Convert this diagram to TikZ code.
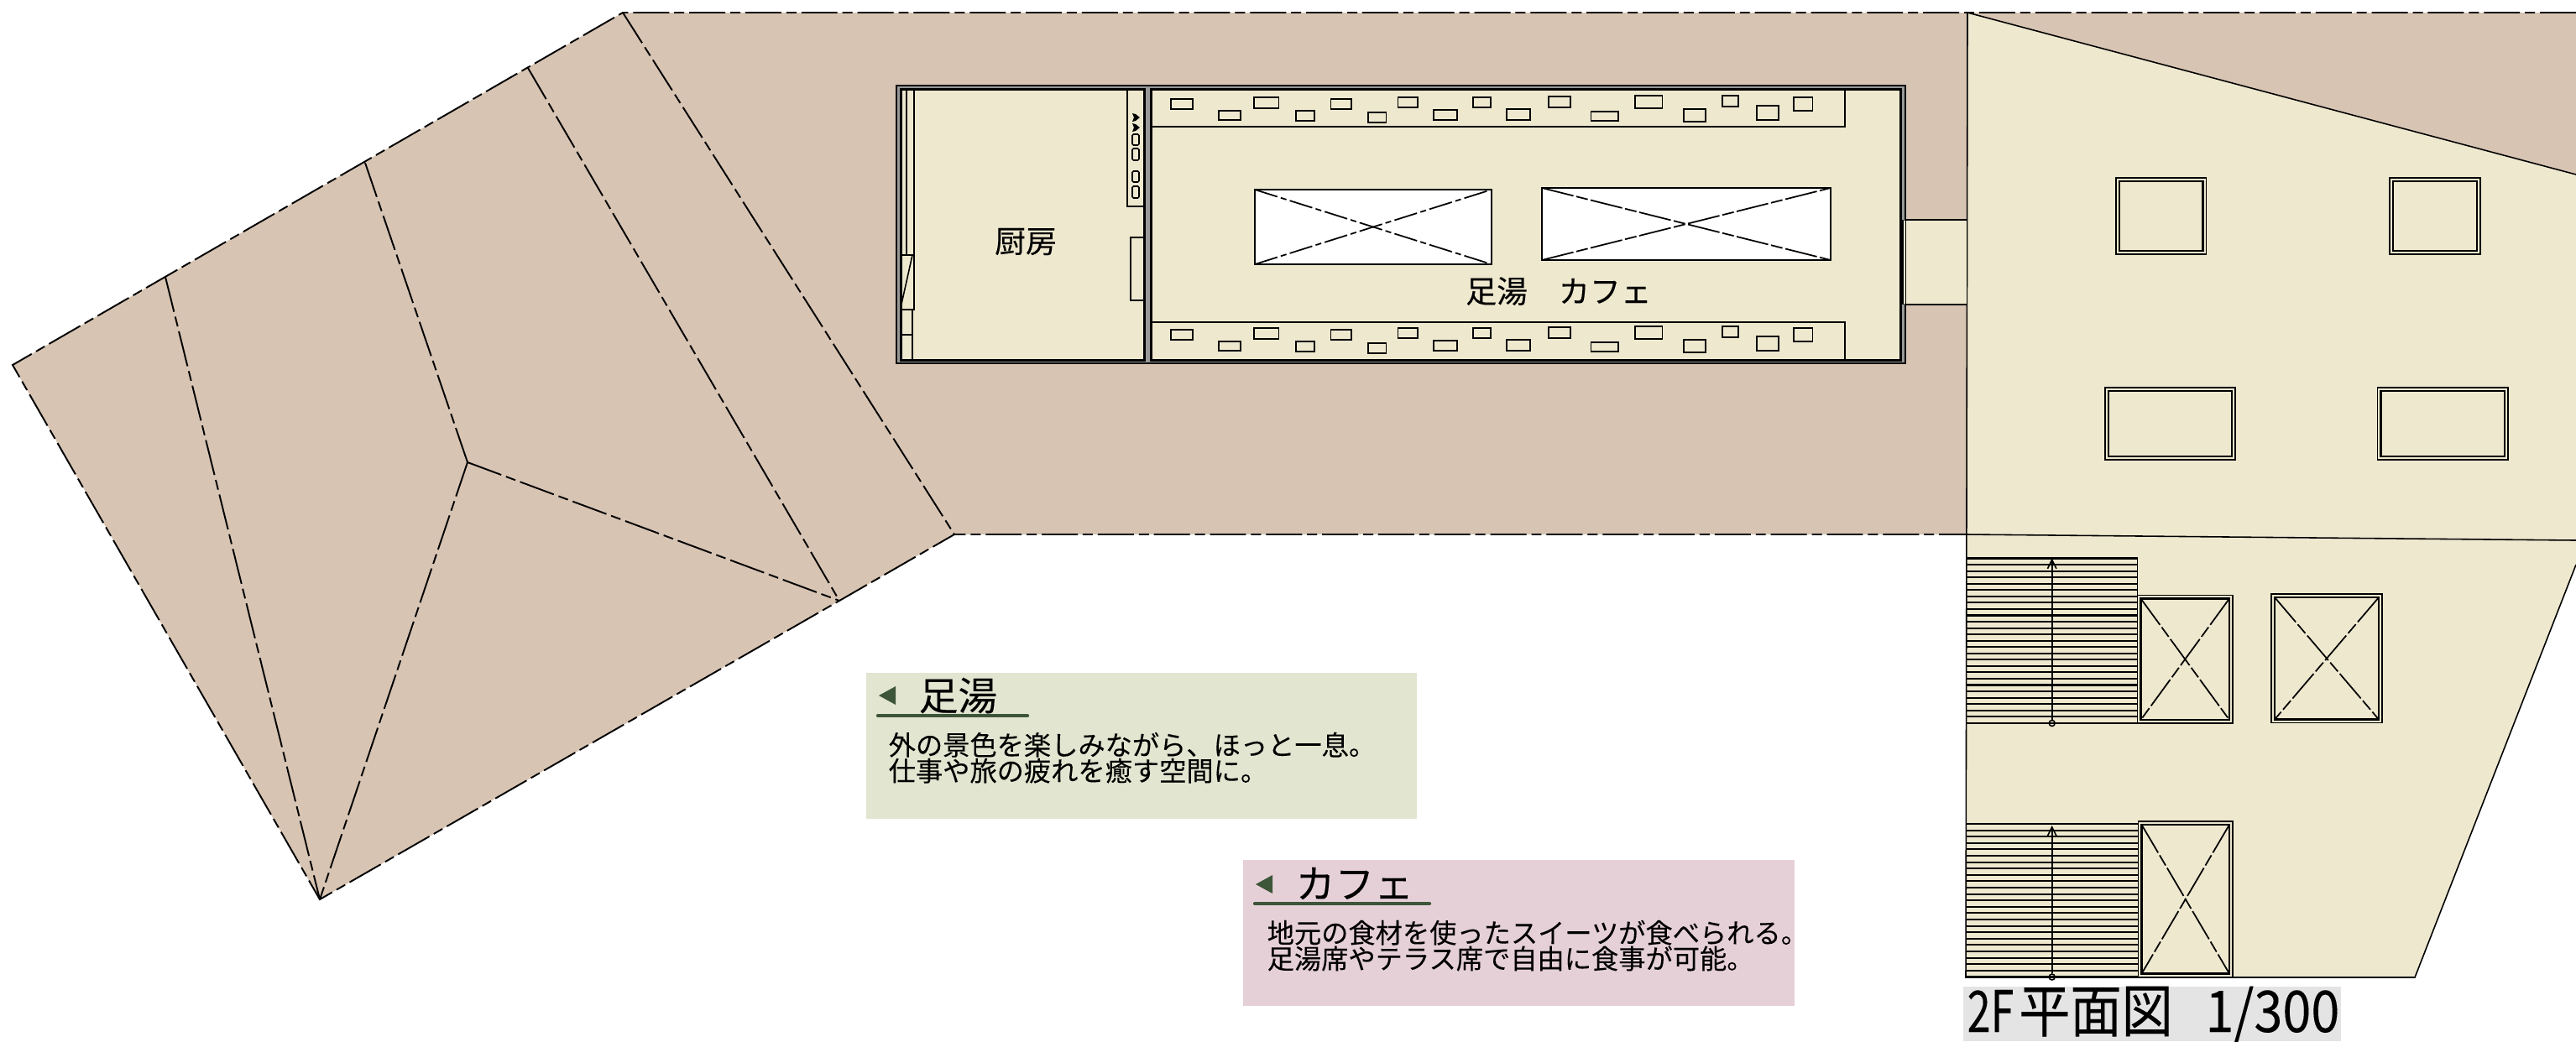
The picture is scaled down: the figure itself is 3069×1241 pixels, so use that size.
\documentclass[tikz,border=0pt]{standalone}
\usepackage{fontspec}
\setmainfont[FakeBold=0.12]{Noto Sans CJK JP}
\usepackage{tikz}
\usetikzlibrary{arrows.meta}

\definecolor{roofbrown}{HTML}{D7C4B3}
\definecolor{floorcream}{HTML}{EEE8CF}
\definecolor{wallgray}{HTML}{999999}
\definecolor{notegreen}{HTML}{E2E5D0}
\definecolor{notepink}{HTML}{E6D0D8}
\definecolor{markgreen}{HTML}{3D5538}
\definecolor{titlegray}{HTML}{E4E4E4}

\tikzset{
    roofline/.style={line width=.55pt, dash pattern=on 12.2pt off 1.7pt on 3.4pt off 1.7pt},
    thinline/.style={line width=.45pt},
    heavyline/.style={line width=.85pt},
    voidline/.style={line width=.5pt, dash pattern=on 8pt off 1.2pt on 2pt off 1.2pt},
    voidlong/.style={line width=.5pt, dash pattern=on 11pt off 1pt on 4pt off 1pt},
    roomlabel/.style={inner sep=0pt, font=\fontsize{10.5pt}{10.5pt}\selectfont},
    noteheading/.style={inner sep=0pt, anchor=west, font=\fontsize{13.3pt}{13.5pt}\selectfont},
    notebody/.style={inner sep=0pt, anchor=north west, align=left, font=\fontsize{9.17pt}{8.75pt}\selectfont},
    underbar/.style={markgreen, line width=1.2pt, line cap=round},
    stairline/.style={line width=.6pt},
    stairdot/.style={circle, draw, thinline, inner sep=0pt, minimum size=2pt},
    stairarrow/.style={thinline, -{Straight Barb[length=3pt,width=3pt]}}
}

\begin{document}
\begin{tikzpicture}[x=0.01cm,y=-0.01cm]
    \useasboundingbox (0,0) rectangle (3069,1241);

    \coordinate (roofA) at (742,15);
    \coordinate (roofB) at (15,435);
    \coordinate (roofC) at (381,1072);
    \coordinate (roofD) at (1000,716);
    \coordinate (roofE) at (1137,637);
    \coordinate (roofF) at (557,551);
    \coordinate (ridgeA) at (629,81);
    \coordinate (ridgeB) at (435,194);
    \coordinate (ridgeC) at (197,330);
    \coordinate (bldgA) at (2344,15);
    \coordinate (bldgB) at (3069,208);
    \coordinate (bldgC) at (3069,673);
    \coordinate (bldgD) at (2877,1165);
    \coordinate (bldgE) at (2342,1165);
    \coordinate (bldgF) at (2343,637);
    \coordinate (bldgG) at (3069,644);
    \coordinate (topEnd) at (3069,15);

    % roof
    \fill[roofbrown] (roofA) -- (roofB) -- (roofC) -- (roofD) -- (roofE) -- (bldgF) -- (bldgG) -- (topEnd) -- cycle;
    \draw[roofline] (topEnd) -- (roofA) -- (roofB) -- (roofC) -- (roofD) -- (roofE) -- (bldgF);
    \draw[roofline] (roofA) -- (roofE);
    \draw[roofline] (ridgeA) -- (roofD);
    \draw[roofline] (ridgeB) -- (roofF);
    \draw[roofline] (ridgeC) -- (roofC);
    \draw[roofline] (roofF) -- (roofC);
    \draw[roofline] (roofF) -- (roofD);

    % building on the right
    \fill[floorcream] (bldgA) -- (bldgB) -- (bldgC) -- (bldgD) -- (bldgE) -- cycle;
    \draw[thinline] (bldgB) -- (bldgA) -- (bldgE) -- (bldgD) -- (bldgC);
    \draw[thinline] (bldgF) -- (bldgG);
    \foreach \xa/\ya/\xb/\yb in {2521/212/2628.5/303, 2847/212/2955/303, 2508/462/2663/548, 2832.5/462/2988/548}{
        \draw[thinline] (\xa,\ya) rectangle (\xb,\yb);
        \draw[thinline, line width=.65pt] ({\xa+4},{\ya+4}) rectangle ({\xb-4},{\yb-4});
    }

    % stairs
    \foreach \i in {0,...,26}
        \draw[stairline] (2343,{665.5+\i*7.55}) -- (2546.5,{665.5+\i*7.55});
    \draw[thinline] (2546.5,665.5) -- (2546.5,862);
    \foreach \i in {0,...,24}
        \draw[stairline] (2342,{982+\i*7.6}) -- (2547,{982+\i*7.6});
    \coordinate (stairTopA) at (2444.7,665.5);
    \coordinate (stairTopB) at (2444.7,984);
    \node[stairdot] (stairDotA) at (2444.7,862) {};
    \node[stairdot] (stairDotB) at (2444.7,1164.5) {};
    \draw[stairarrow] (stairDotA) -- (stairTopA);
    \draw[stairarrow] (stairDotB) -- (stairTopB);

    % shafts
    \foreach \xa/\ya/\xb/\yb in {2546.5/709.5/2660/862, 2706/708/2838/861.5, 2547.5/979/2660/1164.5}{
        \draw[thinline] (\xa,\ya) rectangle (\xb,\yb);
        \draw[thinline, line width=.65pt] ({\xa+4},{\ya+4}) rectangle ({\xb-4},{\yb-4});
        \draw[voidlong] ({\xa+4},{\ya+4}) -- ({\xb-4},{\yb-4});
        \draw[voidlong] ({\xb-4},{\ya+4}) -- ({\xa+4},{\yb-4});
    }

    % link between the wings
    \fill[floorcream] (2266,262) rectangle (2343,363);
    \draw[thinline] (2266,262) -- (2343,262);
    \draw[thinline] (2266,363) -- (2343,363);

    % footbath cafe
    \draw[thinline, fill=wallgray] (1068,102) rectangle (2270,433);
    \draw[heavyline, fill=floorcream] (1073,106) rectangle (1363,429);
    \draw[heavyline, fill=floorcream] (1371,106) rectangle (2264,429);
    \fill[floorcream] (2265,263) rectangle (2270,362);
    \draw[heavyline] (2266,262) -- (2266,363);

    % kitchen fittings
    \draw[thinline] (1080,106) -- (1080,304);
    \draw[thinline] (1089,106) -- (1089,369) -- (1073,369);
    \draw[thinline] (1073,304) -- (1089,304);
    \draw[thinline] (1087,304) -- (1073,367);
    \draw[thinline] (1087,369) -- (1087,429);
    \draw[thinline] (1073,399) -- (1087,399);
    \draw[thinline] (1343,106) -- (1343,246) -- (1363,246);
    \draw[thinline] (1363,283) -- (1347,283) -- (1347,358) -- (1363,358);
    \foreach \ya/\yb in {160/173, 177/191, 204/217, 222/236}
        \draw[thinline, rounded corners=.4pt] (1349,\ya) rectangle (1357,\yb);
    \foreach \ya in {135,147}
        \fill (1349,\ya) -- (1353,{\ya+1}) -- (1358,{\ya+5}) -- (1353,{\ya+9}) -- (1349,{\ya+10}) -- (1351,{\ya+5}) -- cycle;

    % benches and tables
    \foreach \dy in {0,274.67}{
        \foreach \xa/\ya/\xb/\yb in {1395/118/1421/130, 1452/132/1478/143, 1494/116/1523.5/129, 1544/132/1566/144,
                1585.5/118/1610/130, 1630/134/1651.5/146, 1665.5/116/1689/128, 1708/131/1736/143, 1755/116/1776/128,
                1795/130/1823/143, 1845/115/1871/128, 1895.5/133/1928/144, 1948/114/1980.5/129, 2006/130/2032/145,
                2052/114/2071/127, 2093/126/2119/143, 2137/116/2159.5/132}
            \draw[thinline, line width=.55pt] (\xa,{\ya+\dy}) rectangle (\xb,{\yb+\dy});
    }
    \draw[thinline, line width=.6pt] (1371,151) -- (2198,151) -- (2198,106);
    \draw[thinline, line width=.6pt] (1371,384) -- (2198,384) -- (2198,429);

    % voids
    \draw[thinline, line width=.6pt, fill=white] (1495,226) rectangle (1777,315);
    \draw[voidline] (1495,226) -- (1777,315);
    \draw[voidline] (1495,315) -- (1777,226);
    \draw[thinline, line width=.6pt, fill=white] (1837,224) rectangle (2181,310);
    \draw[voidlong] (1837,224) -- (2181,310);
    \draw[voidlong] (1837,310) -- (2181,224);

    \node[roomlabel] (kitchenLabel) at (1222,288) {厨房};
    \node[roomlabel] (cafeLabel) at (1857,347) {足湯　カフェ};

    % notes
    \fill[notegreen] (1032,802) rectangle (1688,976);
    \fill[markgreen] (1047,829) -- (1067,818) -- (1067,840) -- cycle;
    \node[noteheading] (footHead) at (1094,829) {足湯};
    \draw[underbar] (1046,853) -- (1224,853);
    \node[notebody] (footBody) at (1058,872) {外の景色を楽しみながら、ほっと一息。\\仕事や旅の疲れを癒す空間に。};

    \fill[notepink] (1481,1025) rectangle (2138,1199);
    \fill[markgreen] (1496,1054) -- (1516,1043) -- (1516,1065) -- cycle;
    \node[noteheading] (cafeHead) at (1543,1053) {カフェ};
    \draw[underbar] (1495,1077) -- (1703,1077);
    \node[notebody] (cafeBody) at (1509,1096) {地元の食材を使ったスイーツが食べられる。\\足湯席やテラス席で自由に食事が可能。};

    % title
    \fill[titlegray] (2339,1176) rectangle (2789,1241);
    \node[inner sep=0pt, anchor=west, yscale=1.12, transform shape, font=\fontsize{17.4pt}{18pt}\selectfont] (planTitle) at (2343,1209)
        {\scalebox{.82}[1]{2F}\hspace{1.7pt}平面図\hspace{11pt}1/300};
\end{tikzpicture}
\end{document}
